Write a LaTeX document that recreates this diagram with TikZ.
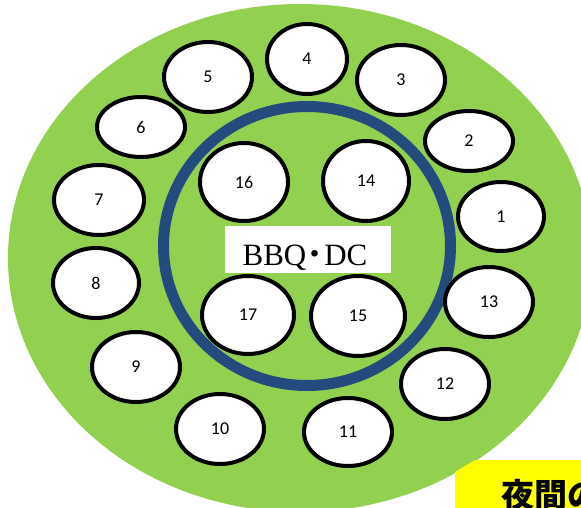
\documentclass[tikz,border=0pt]{standalone}
\usepackage{fontspec}
\newfontfamily\numfont{Carlito}
\newfontfamily\lblfont{Liberation Serif}
\newfontfamily\cjk{Noto Sans CJK JP}
\newfontfamily\cjkp{Noto Sans CJK JP}[RawFeature=+palt]
\usetikzlibrary{shapes.geometric}
\definecolor{lawn}{HTML}{92D050}
\definecolor{ringblue}{HTML}{244B7E}
\definecolor{signyellow}{HTML}{FFFF00}
\begin{document}
\begin{tikzpicture}[x=1pt,y=-1pt,
  tbl/.style={ellipse, draw=black, line width=4pt, fill=white, inner sep=0pt,
    font=\numfont\fontsize{18}{18}\selectfont},
  ringshape/.style={ellipse, draw=ringblue, line width=11pt, inner sep=0pt},
  lblbox/.style={fill=white, inner sep=0pt, minimum width=166pt, minimum height=47pt}]
\useasboundingbox (0,0) rectangle (581,507);
\clip (0,0) rectangle (581,507);
% green lawn
\fill[lawn] (300,258) ellipse [x radius=292pt, y radius=254pt];
% blue ring
\node[ringshape, minimum width=287pt, minimum height=279pt] (ring) at (307,246) {};
% label box
\node[lblbox] (lblbox) at (308,249.5) {};
\node[anchor=base, inner sep=0pt, font=\lblfont\fontsize{31}{31}\selectfont] (lbl) at (305,265)
  {BBQ\kern0.04em{\cjkp ・}\kern0.04em DC};
% outer tables
\node[tbl, minimum width=86pt, minimum height=69pt] (t1) at (501,216.5) {1};
\node[tbl, minimum width=88pt, minimum height=60pt] (t2) at (469,141) {2};
\node[tbl, minimum width=88pt, minimum height=70pt] (t3) at (401,80) {3};
\node[tbl, minimum width=80pt, minimum height=70pt] (t4) at (307,59) {4};
\node[tbl, minimum width=88pt, minimum height=70pt] (t5) at (208,77) {5};
\node[tbl, minimum width=88pt, minimum height=60pt] (t6) at (141,127) {6};
\node[tbl, minimum width=90pt, minimum height=70pt] (t7) at (99,200) {7};
\node[tbl, minimum width=86pt, minimum height=70pt] (t8) at (96,283) {8};
\node[tbl, minimum width=88pt, minimum height=70pt] (t9) at (136,367) {9};
\node[tbl, minimum width=88pt, minimum height=70pt] (t10) at (220,429) {10};
\node[tbl, minimum width=88pt, minimum height=68pt] (t11) at (348,432) {11};
\node[tbl, minimum width=88pt, minimum height=70pt] (t12) at (445,384) {12};
\node[tbl, minimum width=88pt, minimum height=70pt] (t13) at (489,302) {13};
% inner tables
\node[tbl, minimum width=86pt, minimum height=80pt] (t14) at (366,181) {14};
\node[tbl, minimum width=88pt, minimum height=78pt] (t16) at (244,182) {16};
\node[tbl, minimum width=92pt, minimum height=78pt] (t17) at (248,315) {17};
\node[tbl, minimum width=94pt, minimum height=80pt] (t15) at (358,316) {15};
% yellow sign at bottom right
\fill[signyellow] (455,472) -- (475,460) -- (595,460) -- (595,520) -- (455,520) -- cycle;
\node[anchor=base west, inner sep=0pt, font=\cjk\bfseries\fontsize{33}{33}\selectfont] (night) at (501,507) {夜間の};
\end{tikzpicture}
\end{document}
